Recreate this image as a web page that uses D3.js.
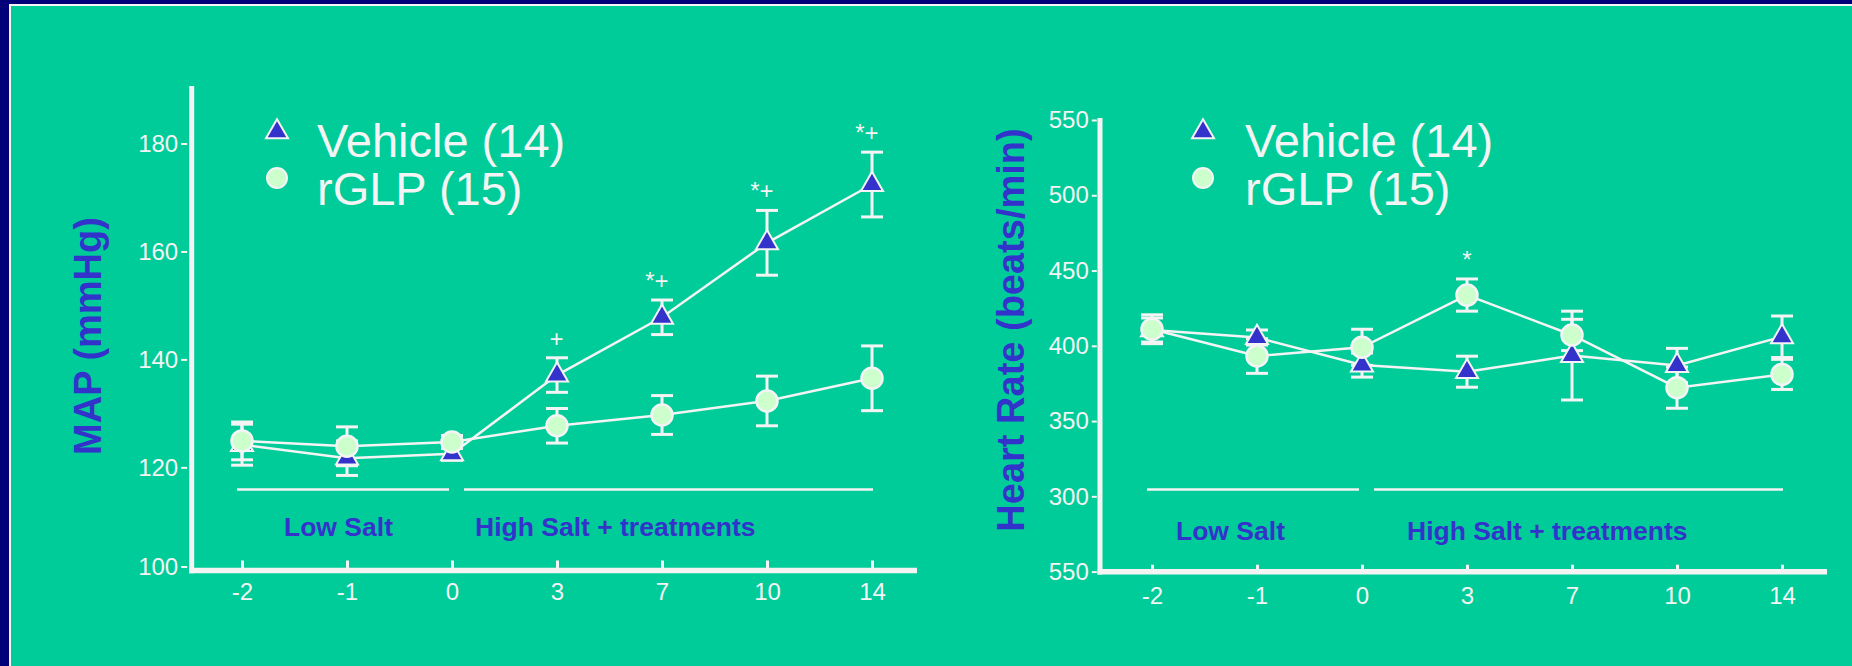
<!DOCTYPE html>
<html>
<head>
<meta charset="utf-8">
<script src="https://cdn.jsdelivr.net/npm/d3@7"></script>
<style>
  html, body { margin: 0; padding: 0; background: #00cc99; }
  svg { display: block; }
</style>
</head>
<body>
<svg id="chart" width="1852" height="666"></svg>
<script>
// ---- data -------------------------------------------------------------
const days = ["-2", "-1", "0", "3", "7", "10", "14"];
const seriesNames = ["Vehicle (14)", "rGLP (15)"];
const periodNames = ["Low Salt", "High Salt + treatments"];
const periodSpans = [["-2", "0"], ["0", "14"]];

// Mean arterial pressure (mmHg), mean and SE per day
const mapVehicle    = [124.2, 121.7, 122.5, 137.1, 147.8, 161.6, 172.4];
const mapVehicleErr = [3.8, 3.2, 1.2, 3.2, 3.2, 6.0, 6.0];
const mapRglp       = [124.9, 123.9, 124.7, 127.7, 129.7, 132.3, 136.5];
const mapRglpErr    = [3.5, 3.6, 1.2, 3.2, 3.6, 4.6, 6.0];
const mapVehicleSig = ["", "", "", "+", "*+", "*+", "*+"];
const mapRglpSig    = ["", "", "", "", "", "", ""];
const mapTicks      = [100, 120, 140, 160, 180];
const mapTickLabels = ["100", "120", "140", "160", "180"];

// Heart rate (beats/min), mean and SE per day
const hrVehicle    = [410.5, 405.5, 387.2, 382.8, 393.5, 386.9, 406.0];
const hrVehicleErr = [8.0, 5.0, 8.0, 10.3, 29.5, 11.4, 13.8];
const hrRglp       = [411.0, 393.2, 399.0, 433.7, 407.2, 372.2, 381.0];
const hrRglpErr    = [9.6, 11.5, 12.0, 10.7, 10.4, 13.7, 10.0];
const hrVehicleSig = ["", "", "", "", "", "", ""];
const hrRglpSig    = ["", "", "", "*", "", "", ""];
const hrTicks      = [250, 300, 350, 400, 450, 500, 550];
const hrTickLabels = ["550", "300", "350", "400", "450", "500", "550"];

// ---- styling ----------------------------------------------------------
const FG = "#f4f4f4";
const BLUE = "#3333cc";
const PALE = "#ccffcc";
const FONT = "'Liberation Sans', Arial, Helvetica, sans-serif";

const W = 1852, H = 666;
const svg = d3.select("#chart");

// slide frame: navy edge strips with a thin white rule
svg.append("rect").attr("width", W).attr("height", H).attr("fill", "#00cc99");
svg.append("rect").attr("width", 9).attr("height", H).attr("fill", "#000078");
svg.append("rect").attr("width", W).attr("height", 4).attr("fill", "#000078");
svg.append("path").attr("d", `M10,${H} V5 H${W}`)
  .attr("fill", "none").attr("stroke", FG).attr("stroke-width", 2);

function drawPanel(p) {
  const g = svg.append("g");
  const x = d3.scalePoint().domain(days).range(p.xRange);
  const y = d3.scaleLinear().domain(p.yDomain).range(p.yRange);

  // y axis ticks and labels
  const yAxis = d3.axisLeft(y)
    .tickValues(p.ticks)
    .tickFormat(d => p.tickLabels[p.ticks.indexOf(d)])
    .tickSize(p.yTickSize)
    .tickPadding(3);
  const ya = g.append("g")
    .attr("transform", `translate(${p.axisX - 2.5 - p.yTickGap},0)`)
    .call(yAxis);
  ya.select(".domain").remove();
  ya.selectAll(".tick line").attr("stroke", FG).attr("stroke-width", 2);
  ya.selectAll(".tick text").attr("fill", FG)
    .style("font-family", FONT).style("font-size", "24px");
  if (p.floorTick != null) {
    ya.selectAll(".tick").filter(d => d === p.floorTick)
      .attr("transform", `translate(0,${p.floorLabelY})`);
  }

  // x axis ticks (pointing up into the plot) and labels
  const xAxis = d3.axisBottom(x).tickSize(-p.xTickLen).tickPadding(p.xLabelPad);
  const xa = g.append("g").attr("transform", `translate(0,${p.floorY})`).call(xAxis);
  xa.select(".domain").remove();
  xa.selectAll(".tick line").attr("stroke", FG).attr("stroke-width", 3);
  xa.selectAll(".tick text").attr("fill", FG)
    .style("font-family", FONT).style("font-size", "24px");

  // heavy axis frame
  g.append("line")
    .attr("x1", p.axisX).attr("x2", p.axisX)
    .attr("y1", p.axisTop).attr("y2", p.floorY + 2.75)
    .attr("stroke", FG).attr("stroke-width", 5);
  g.append("line")
    .attr("x1", p.axisX - 2.5).attr("x2", p.axisEnd)
    .attr("y1", p.floorY).attr("y2", p.floorY)
    .attr("stroke", FG).attr("stroke-width", 5.5);

  // axis title
  g.append("text")
    .attr("transform", `translate(${p.titleX},${p.titleY}) rotate(-90)`)
    .attr("text-anchor", "middle")
    .attr("fill", BLUE)
    .style("font-family", FONT).style("font-size", "38px").style("font-weight", "bold")
    .text(p.title);

  // protocol periods: rule plus label
  periodSpans.forEach((span, k) => {
    const x1 = x(span[0]) + (k === 0 ? -5 : 12);
    const x2 = x(span[1]) + (k === 0 ? -3 : 1);
    g.append("line")
      .attr("x1", x1).attr("x2", x2)
      .attr("y1", p.periodY).attr("y2", p.periodY)
      .attr("stroke", FG).attr("stroke-width", 2.7);
    g.append("text")
      .attr("x", x1 + p.periodLabelDx[k]).attr("y", p.periodLabelY)
      .attr("fill", BLUE)
      .style("font-family", FONT).style("font-size", "26.5px").style("font-weight", "bold")
      .text(periodNames[k]);
  });

  const series = [
    { vals: p.vehicle, errs: p.vehicleErr, sig: p.vehicleSig, kind: "tri" },
    { vals: p.rglp, errs: p.rglpErr, sig: p.rglpSig, kind: "dot" }
  ];

  const line = d3.line().x((d, i) => x(days[i])).y(d => y(d));

  // connecting lines
  series.forEach(s => {
    g.append("path").datum(s.vals)
      .attr("d", line)
      .attr("fill", "none").attr("stroke", FG).attr("stroke-width", 2.5);
  });

  // SE bars
  series.forEach(s => {
    s.vals.forEach((v, i) => {
      const cx = x(days[i]);
      const yt = y(v + s.errs[i]), yb = y(v - s.errs[i]);
      g.append("line").attr("x1", cx).attr("x2", cx).attr("y1", yt).attr("y2", yb)
        .attr("stroke", FG).attr("stroke-width", 3);
      [yt, yb].forEach(yy => {
        g.append("line").attr("x1", cx - 11).attr("x2", cx + 11).attr("y1", yy).attr("y2", yy)
          .attr("stroke", FG).attr("stroke-width", 3);
      });
      // significance marks above the upper bar
      const mark = s.sig[i];
      if (mark) {
        const endsPlus = mark.endsWith("+");
        g.append("text")
          .attr("x", endsPlus ? cx + 6.5 : cx)
          .attr("y", yt - 11)
          .attr("text-anchor", endsPlus ? "end" : "middle")
          .attr("fill", FG)
          .style("font-family", FONT).style("font-size", "24px")
          .text(mark);
      }
    });
  });

  // markers
  const tri = d3.symbol(d3.symbolTriangle, 210);
  const dot = d3.symbol(d3.symbolCircle, Math.PI * 10.5 * 10.5);
  series.forEach(s => {
    s.vals.forEach((v, i) => {
      g.append("path")
        .attr("d", s.kind === "tri" ? tri() : dot())
        .attr("transform", `translate(${x(days[i])},${y(v)})`)
        .attr("fill", s.kind === "tri" ? BLUE : PALE)
        .attr("stroke", FG).attr("stroke-width", s.kind === "tri" ? 2 : 2.5);
    });
  });

  // legend
  const leg = [
    { kind: "tri", y: 132, base: 157 },
    { kind: "dot", y: 178, base: 205 }
  ];
  leg.forEach((l, k) => {
    g.append("path")
      .attr("d", l.kind === "tri" ? tri() : dot.size(Math.PI * 10 * 10)())
      .attr("transform", `translate(${p.legendX},${l.y})`)
      .attr("fill", l.kind === "tri" ? BLUE : PALE)
      .attr("stroke", FG).attr("stroke-width", 2);
    g.append("text")
      .attr("x", p.legendTextX).attr("y", l.base)
      .attr("fill", FG)
      .style("font-family", FONT).style("font-size", "47px")
      .text(seriesNames[k]);
  });
}

drawPanel({
  title: "MAP (mmHg)", titleX: 101, titleY: 336,
  xRange: [242, 872],
  yDomain: [100, 180], yRange: [575.3, 143.5],
  ticks: mapTicks, tickLabels: mapTickLabels,
  floorTick: 100, floorLabelY: 567,
  axisX: 191.7, axisTop: 86, floorY: 570.5, axisEnd: 917,
  yTickSize: 6, yTickGap: 2,
  xTickLen: 10, xLabelPad: 12.5,
  periodY: 489.5, periodLabelY: 536, periodLabelDx: [47, 11],
  vehicle: mapVehicle, vehicleErr: mapVehicleErr, vehicleSig: mapVehicleSig,
  rglp: mapRglp, rglpErr: mapRglpErr, rglpSig: mapRglpSig,
  legendX: 277, legendTextX: 317
});

drawPanel({
  title: "Heart Rate (beats/min)", titleX: 1024, titleY: 330,
  xRange: [1152, 1782],
  yDomain: [250, 550], yRange: [571.6, 120],
  ticks: hrTicks, tickLabels: hrTickLabels,
  floorTick: null,
  axisX: 1100, axisTop: 118, floorY: 571.7, axisEnd: 1827,
  yTickSize: 5, yTickGap: 0.7,
  xTickLen: 7, xLabelPad: 15.5,
  periodY: 489.5, periodLabelY: 540, periodLabelDx: [29, 33],
  vehicle: hrVehicle, vehicleErr: hrVehicleErr, vehicleSig: hrVehicleSig,
  rglp: hrRglp, rglpErr: hrRglpErr, rglpSig: hrRglpSig,
  legendX: 1203, legendTextX: 1245
});
</script>
</body>
</html>
